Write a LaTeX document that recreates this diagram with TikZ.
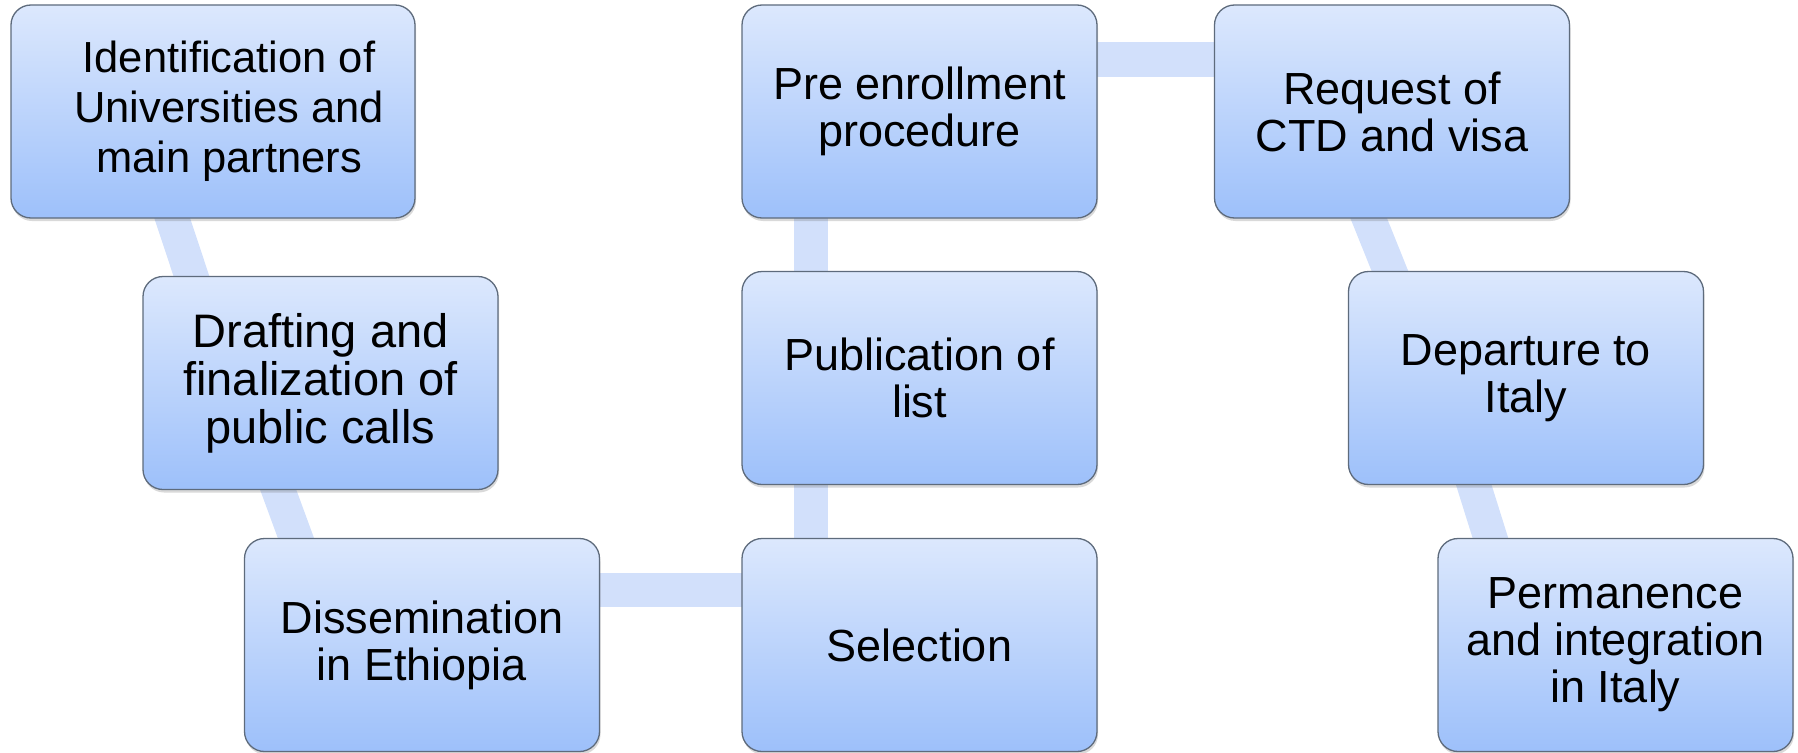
\documentclass[tikz,border=0pt]{standalone}
\usepackage{fontspec}
\setmainfont{Liberation Sans}
\usetikzlibrary{calc,backgrounds,shadows}
\definecolor{boxtop}{HTML}{DCE8FD}
\definecolor{boxbot}{HTML}{9DC0FA}
\definecolor{boxline}{HTML}{5E6B7C}
\definecolor{band}{HTML}{D2E0FB}
\begin{document}
\begin{tikzpicture}[x=1pt,y=-1pt,
  stepbox/.style={rectangle, rounded corners=20pt, draw=boxline, line width=1.3pt,
    top color=boxtop, bottom color=boxbot, minimum width=355pt, minimum height=213pt,
    align=center, inner sep=4pt, font=\fontsize{45}{47}\selectfont,
    drop shadow={shadow xshift=1pt, shadow yshift=-3pt, opacity=0.25, fill=black!60}},
  link/.style={line width=34pt, draw=band, shorten <=-20pt, shorten >=-20pt}]
\useasboundingbox (0,0) rectangle (1798,752);
\node[stepbox, minimum width=404pt,
  label={[align=center, font=\fontsize{43.5}{50}\selectfont, xshift=16pt]center:Identification of\\Universities and\\main partners}] (id) at (213,111.5) {};
\node[stepbox, font=\fontsize{47}{48}\selectfont] (dr) at (320.5,383) {Drafting and\\finalization of\\public calls};
\node[stepbox] (dis) at (422,645) {Dissemination\\in Ethiopia};
\node[stepbox] (sel) at (919.5,645) {Selection};
\node[stepbox] (pub) at (919.5,378) {Publication of\\list};
\node[stepbox] (pre) at (919.5,111.5) {Pre enrollment\\procedure};
\node[stepbox] (req) at (1392,111.5) {Request of\\CTD and visa};
\node[stepbox] (dep) at (1526,378) {Departure to\\Italy};
\node[stepbox] (perm) at (1615.5,645) {Permanence\\and integration\\in Italy};
\begin{scope}[on background layer]
\draw[link] ($(id.south west)+(162,0)$) -- ($(dr.north west)+(49,0)$);
\draw[link] ($(dr.south west)+(136,0)$) -- ($(dis.north west)+(52,0)$);
\draw[link] ($(dis.east)+(0,-55)$) -- ($(sel.west)+(0,-55)$);
\draw[link] ($(sel.north west)+(70,0)$) -- ($(pub.south west)+(70,0)$);
\draw[link] ($(pub.north west)+(70,0)$) -- ($(pre.south west)+(70,0)$);
\draw[link] ($(pre.east)+(0,-52)$) -- ($(req.west)+(0,-52)$);
\draw[link] ($(req.south west)+(155,0)$) -- ($(dep.north west)+(42,0)$);
\draw[link] ($(dep.south west)+(126,0)$) -- ($(perm.north west)+(53,0)$);
\end{scope}
\end{tikzpicture}
\end{document}
